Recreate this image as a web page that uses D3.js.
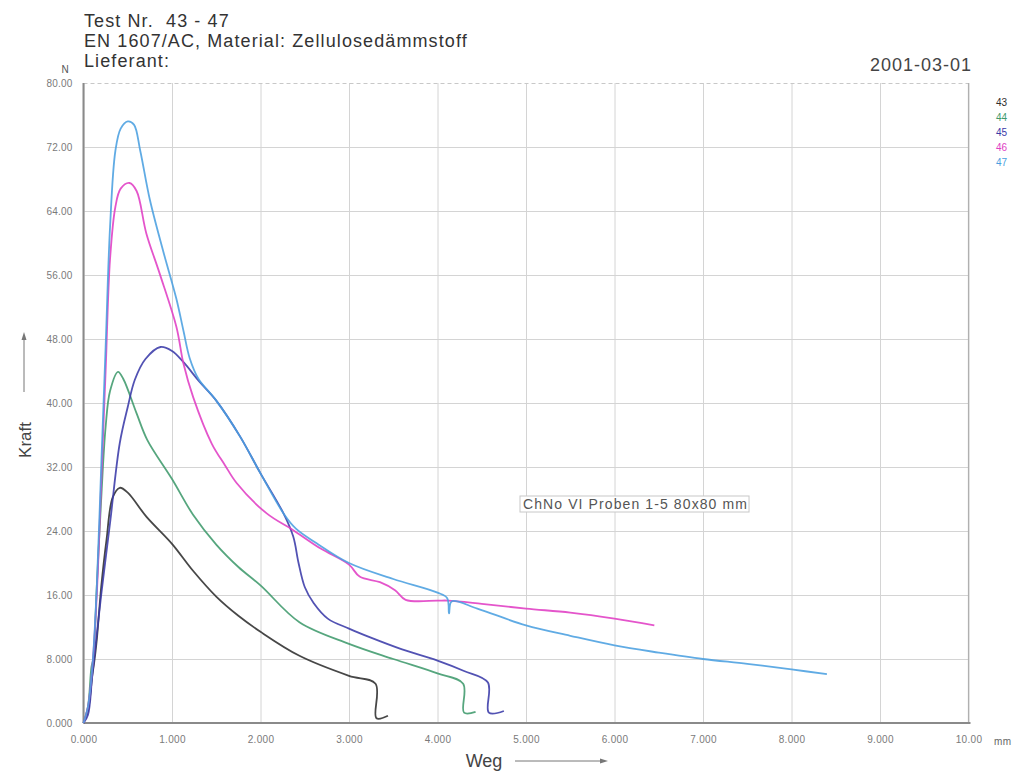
<!DOCTYPE html>
<html><head><meta charset="utf-8">
<script src="https://cdn.jsdelivr.net/npm/d3@7"></script>
<style>
html,body{margin:0;padding:0;background:#fff;}
svg{display:block;font-family:"Liberation Sans",Arial,sans-serif;}
text{white-space:pre;}
</style></head>
<body><svg id="c" width="1029" height="773"></svg>
<script>
// ---- data ----
const titleLines = ["Test Nr.  43 - 47", "EN 1607/AC, Material: Zellulosedämmstoff", "Lieferant:"];
const dateText = "2001-03-01";
const annotation = "ChNo VI Proben 1-5 80x80 mm";
const seriesNames = ["43", "44", "45", "46", "47"];
const seriesColors = ["#2e2e2e", "#3f9a6c", "#3a3aa8", "#e03ec4", "#4a9fe0"];
const xTickValues = [0,1,2,3,4,5,6,7,8,9,10];
const xTickLabels = ["0.000","1.000","2.000","3.000","4.000","5.000","6.000","7.000","8.000","9.000","10.00"];
const yTickValues = [0,8,16,24,32,40,48,56,64,72,80];
const yTickLabels = ["0.000","8.000","16.00","24.00","32.00","40.00","48.00","56.00","64.00","72.00","80.00"];

const s43 = [[0,0],[0.05,1.5],[0.1,6],[0.12,7.5],[0.15,10.4],[0.2,17],[0.26,22.9],[0.33,28.2],[0.41,29.4],[0.5,28.8],[0.71,25.8],[1.0,22.4],[1.24,19.0],[1.5,15.8],[1.75,13.4],[2.0,11.4],[2.44,8.4],[3.0,5.9],[3.3,4.9],[3.31,0.6],[3.44,0.9]];
const s44 = [[0,0],[0.05,2],[0.09,7],[0.11,8],[0.15,17],[0.2,28],[0.25,37],[0.3,41.5],[0.39,43.9],[0.45,43],[0.6,38.7],[0.72,35.4],[1.0,30.5],[1.24,26],[1.5,22.3],[1.75,19.5],[2.0,17.2],[2.44,12.6],[3.0,9.9],[3.5,8.0],[4.0,6.2],[4.29,4.9],[4.3,1.3],[4.43,1.4]];
const s45 = [[0,0],[0.05,1],[0.1,6],[0.2,16],[0.3,25],[0.41,35],[0.5,39.5],[0.58,42.9],[0.7,45.5],[0.87,47],[1.0,46.5],[1.13,45.1],[1.3,42.8],[1.5,40.3],[1.77,35.8],[2.0,31.2],[2.26,26.2],[2.37,23.3],[2.43,20],[2.5,17],[2.6,15],[2.76,13.05],[3.0,11.8],[3.24,10.7],[3.6,9.2],[4.0,7.8],[4.3,6.5],[4.57,5.05],[4.58,1.3],[4.75,1.5]];
const s46 = [[0,0],[0.05,2],[0.1,7],[0.15,16],[0.2,30],[0.25,44],[0.3,58],[0.36,64.5],[0.42,66.8],[0.52,67.5],[0.6,66.5],[0.71,61.2],[0.86,56.2],[1.05,49.5],[1.13,44.9],[1.24,40.7],[1.45,34.9],[1.6,32.2],[1.73,30],[2.07,26.2],[2.37,24.1],[2.68,21.8],[3.0,19.8],[3.12,18.3],[3.35,17.6],[3.52,16.6],[3.64,15.4],[4.0,15.3],[4.12,15.3],[4.5,14.9],[5.0,14.3],[5.5,13.8],[6.0,13.05],[6.45,12.2]];
const s47 = [[0,0],[0.05,2],[0.1,7],[0.15,17],[0.2,32],[0.25,47],[0.3,62],[0.36,71.5],[0.42,74.3],[0.5,75.2],[0.57,74.8],[0.64,71.6],[0.75,65.4],[0.9,59],[1.05,53],[1.13,49],[1.2,45.6],[1.3,43],[1.5,40.3],[1.77,35.8],[2.0,31.2],[2.26,26.2],[2.4,24.3],[2.63,22.5],[3.0,20.0],[3.5,18],[4.0,16.3],[4.11,15.6],[4.13,13.7],[4.16,15.2],[4.45,14.3],[5.0,12.2],[5.5,10.9],[6.0,9.7],[6.5,8.8],[7.0,8.0],[7.5,7.4],[8.0,6.7],[8.4,6.1]];
const seriesData = [s43, s44, s45, s46, s47];

// ---- layout ----
const svg = d3.select("#c");
const L = 83.5, R = 968.5, T = 83, B = 723;
const x = d3.scaleLinear().domain([0,10]).range([L,R]);
const y = d3.scaleLinear().domain([0,80]).range([B,T]);

// grid
const gx = svg.append("g").attr("transform",`translate(0,${B})`)
  .call(d3.axisBottom(x).tickValues(xTickValues).tickSize(-(B-T)).tickFormat((d,i)=>xTickLabels[i]).tickPadding(13));
gx.select(".domain").remove();
gx.selectAll(".tick line").attr("stroke","#d4d4d4").attr("stroke-width",1);
gx.selectAll(".tick text").attr("fill","#7a7a7a").attr("font-size",10).attr("letter-spacing",0.3).attr("font-family","Liberation Sans, Arial, sans-serif");

const gy = svg.append("g").attr("transform",`translate(${L},0)`)
  .call(d3.axisLeft(y).tickValues(yTickValues).tickSize(-(R-L)).tickFormat((d,i)=>yTickLabels[i]).tickPadding(11));
gy.select(".domain").remove();
gy.selectAll(".tick line").attr("stroke","#d4d4d4").attr("stroke-width",1);
gy.selectAll(".tick text").attr("fill","#7a7a7a").attr("font-size",10).attr("letter-spacing",0.2).attr("font-family","Liberation Sans, Arial, sans-serif");
// top dashed border
gy.selectAll(".tick").filter(d=>d===80).select("line").attr("stroke-dasharray","4,3").attr("stroke","#c8c8c8");
// right border
svg.append("line").attr("x1",x(10)).attr("x2",x(10)).attr("y1",T).attr("y2",B).attr("stroke","#b0b0b0").attr("stroke-width",1.2);
// axes lines
svg.append("line").attr("x1",L).attr("x2",L).attr("y1",T).attr("y2",B).attr("stroke","#8a8a8a").attr("stroke-width",2);
svg.append("line").attr("x1",L).attr("x2",R+2).attr("y1",B).attr("y2",B).attr("stroke","#8a8a8a").attr("stroke-width",2);

// curves
const line = d3.line().x(d=>x(d[0])).y(d=>y(d[1])).curve(d3.curveCatmullRom.alpha(0.5));
seriesData.forEach((s,i)=>{
  svg.append("path").datum(s).attr("d",line).attr("fill","none")
    .attr("stroke",seriesColors[i]).attr("stroke-width",1.8).attr("stroke-linejoin","round").attr("opacity",0.88);
});

// titles
titleLines.forEach((t,i)=>{
  svg.append("text").attr("x",84).attr("y",27+i*20).attr("font-size",18).attr("letter-spacing",1.1).attr("fill","#333").text(t);
});
svg.append("text").attr("x",972).attr("y",71).attr("text-anchor","end").attr("font-size",18).attr("letter-spacing",1).attr("fill","#444").text(dateText);
svg.append("text").attr("x",65).attr("y",73).attr("text-anchor","middle").attr("font-size",10).attr("fill","#555").text("N");
svg.append("text").attr("x",994).attr("y",745).attr("font-size",10).attr("letter-spacing",0.5).attr("fill","#666").text("mm");

// legend
seriesNames.forEach((n,i)=>{
  svg.append("text").attr("x",996).attr("y",106+i*15).attr("font-size",10).attr("fill",seriesColors[i]).text(n);
});

// axis titles
svg.append("text").attr("transform","translate(31,440) rotate(-90)").attr("text-anchor","middle").attr("font-size",17).attr("fill","#444").text("Kraft");
svg.append("line").attr("x1",24).attr("x2",24).attr("y1",392).attr("y2",336).attr("stroke","#777").attr("stroke-width",1);
svg.append("path").attr("d","M24,332 L21.5,340 L26.5,340 Z").attr("fill","#777");
svg.append("text").attr("x",484).attr("y",767).attr("text-anchor","middle").attr("font-size",18).attr("fill","#444").text("Weg");
svg.append("line").attr("x1",515).attr("x2",603).attr("y1",761).attr("y2",761).attr("stroke","#777").attr("stroke-width",1);
svg.append("path").attr("d","M608,761 L600,758.5 L600,763.5 Z").attr("fill","#777");

// annotation
const ann = svg.append("g");
const at = ann.append("text").attr("x",523).attr("y",509).attr("font-size",14).attr("letter-spacing",1.1).attr("fill","#555").text(annotation);
const bb = at.node().getBBox();
ann.insert("rect","text").attr("x",bb.x-3).attr("y",bb.y).attr("width",bb.width+4).attr("height",bb.height)
  .attr("fill","#fff").attr("stroke","#c8c8c8");
</script></body></html>
